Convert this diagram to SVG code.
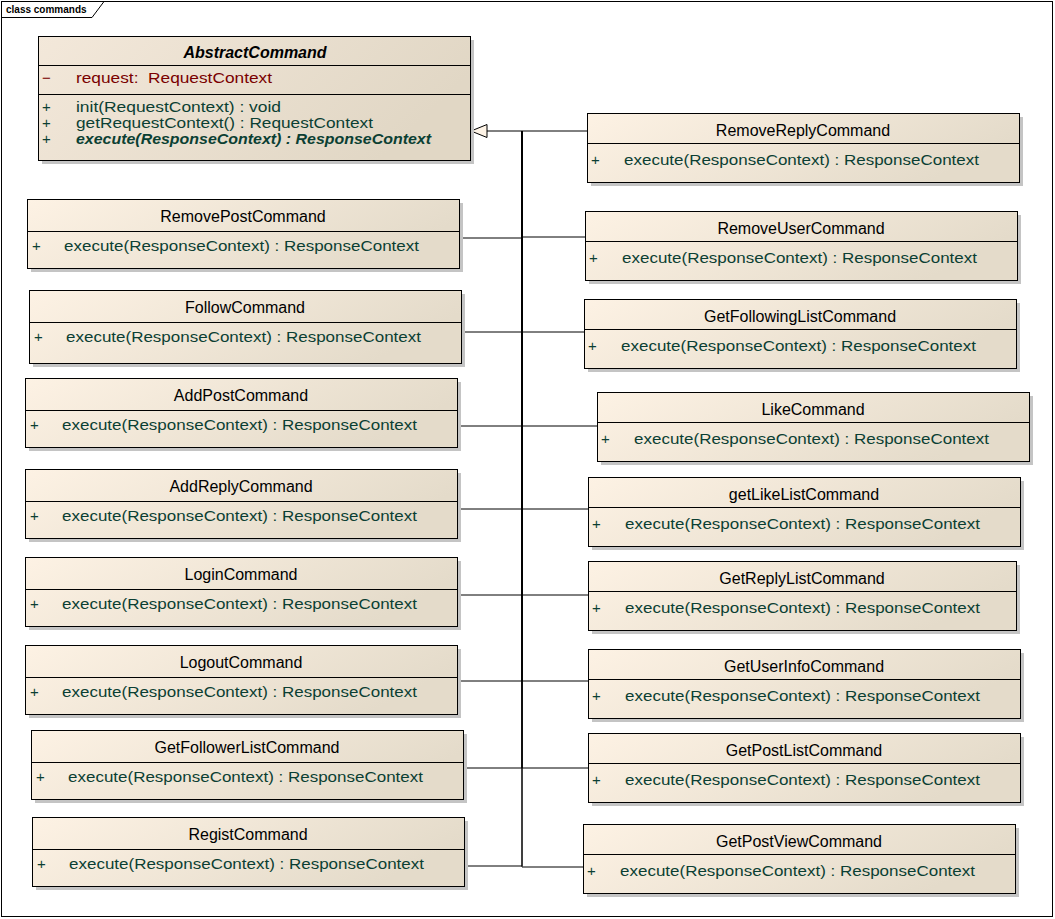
<svg xmlns="http://www.w3.org/2000/svg" width="1055" height="919" viewBox="0 0 1055 919">
<defs>
<linearGradient id="g" x1="0" y1="0" x2="1" y2="0.3">
<stop offset="0" stop-color="#fdf2e4"/>
<stop offset="1" stop-color="#e4dbca"/>
</linearGradient>
<linearGradient id="ga" x1="0" y1="0" x2="1" y2="0.3">
<stop offset="0" stop-color="#f3e8da"/>
<stop offset="1" stop-color="#e1d7c5"/>
</linearGradient>
</defs>
<style>
.sh{fill:#c4c4c4}
.bx{fill:url(#g);stroke:#000;stroke-width:1}
.ln{stroke:#000;stroke-width:1;fill:none}
.t{font-family:"Liberation Sans",Arial,sans-serif;font-size:16px;fill:#000;text-anchor:middle}
.m{font-family:"Liberation Sans",Arial,sans-serif;font-size:15px;fill:#0b3f33}
.a{font-family:"Liberation Sans",Arial,sans-serif;font-size:15px;fill:#7a0000}
.c{stroke:#000;stroke-width:1;fill:none}
</style>
<rect x="0" y="0" width="1055" height="919" fill="#fff"/>
<g id="frame">
<rect x="1.5" y="1.5" width="1051" height="915" fill="none" stroke="#000"/>
<path d="M1.5,1.5 H104 L92,17.5 H1.5" fill="none" stroke="#000"/>
<text x="6" y="13" font-family="'Liberation Sans',Arial,sans-serif" font-size="10" font-weight="bold">class commands</text>
</g>
<g id="connectors">
<path class="c" d="M487,131 H522 V131"/>
<path class="c" d="M587,131 H522"/>
<path class="c" d="M459,238 H522 V131"/>
<path class="c" d="M585,237 H522 V131"/>
<path class="c" d="M461,332 H522 V131"/>
<path class="c" d="M584,332 H522 V131"/>
<path class="c" d="M457,426 H522 V131"/>
<path class="c" d="M597,426 H522 V131"/>
<path class="c" d="M457,509 H522 V131"/>
<path class="c" d="M588,509 H522 V131"/>
<path class="c" d="M457,595 H522 V131"/>
<path class="c" d="M588,595 H522 V131"/>
<path class="c" d="M457,681 H522 V131"/>
<path class="c" d="M588,681 H522 V131"/>
<path class="c" d="M463,768 H522 V131"/>
<path class="c" d="M588,768 H522 V131"/>
<path class="c" d="M464,866 H522 V131"/>
<path class="c" d="M583,867 H522 V131"/>
<path d="M471,131 L487,124.5 L487,137.5 Z" fill="#fdf3e6" stroke="#000"/>
</g>
<g id="AbstractCommand">
<rect class="sh" x="42" y="40" width="432" height="124"/>
<rect x="38.5" y="36.5" width="432" height="124" fill="url(#ga)" stroke="#000"/>
<line class="ln" x1="38.5" y1="65.5" x2="470.5" y2="65.5"/>
<line class="ln" x1="38.5" y1="94.5" x2="470.5" y2="94.5"/>
<text class="t" x="255" y="58" font-weight="bold" font-style="italic">AbstractCommand</text>
<text class="a" x="42" y="83">−</text>
<text class="a" x="76" y="83" xml:space="preserve" textLength="196" lengthAdjust="spacingAndGlyphs">request:  RequestContext</text>
<text class="m" x="42" y="112">+</text>
<text class="m" x="76" y="112" textLength="205" lengthAdjust="spacingAndGlyphs">init(RequestContext) : void</text>
<text class="m" x="42" y="128">+</text>
<text class="m" x="76" y="128" textLength="297" lengthAdjust="spacingAndGlyphs">getRequestContext() : RequestContext</text>
<text class="m" x="42" y="144">+</text>
<text class="m" x="76" y="144" font-weight="bold" font-style="italic" textLength="355" lengthAdjust="spacingAndGlyphs">execute(ResponseContext) : ResponseContext</text>
</g>
<g id="RemovePostCommand">
<rect class="sh" x="31" y="203" width="432" height="69"/>
<rect class="bx" x="27.5" y="199.5" width="432" height="69"/>
<line class="ln" x1="27.5" y1="231.5" x2="459.5" y2="231.5"/>
<text class="t" x="243" y="222">RemovePostCommand</text>
<text class="m" x="32" y="251">+</text>
<text class="m" x="64" y="251" textLength="355" lengthAdjust="spacingAndGlyphs">execute(ResponseContext) : ResponseContext</text>
</g>
<g id="FollowCommand">
<rect class="sh" x="33" y="294" width="432" height="73"/>
<rect class="bx" x="29.5" y="290.5" width="432" height="73"/>
<line class="ln" x1="29.5" y1="322.5" x2="461.5" y2="322.5"/>
<text class="t" x="245" y="313">FollowCommand</text>
<text class="m" x="34" y="342">+</text>
<text class="m" x="66" y="342" textLength="355" lengthAdjust="spacingAndGlyphs">execute(ResponseContext) : ResponseContext</text>
</g>
<g id="AddPostCommand">
<rect class="sh" x="29" y="382" width="432" height="69"/>
<rect class="bx" x="25.5" y="378.5" width="432" height="69"/>
<line class="ln" x1="25.5" y1="410.5" x2="457.5" y2="410.5"/>
<text class="t" x="241" y="401">AddPostCommand</text>
<text class="m" x="30" y="430">+</text>
<text class="m" x="62" y="430" textLength="355" lengthAdjust="spacingAndGlyphs">execute(ResponseContext) : ResponseContext</text>
</g>
<g id="AddReplyCommand">
<rect class="sh" x="29" y="473" width="432" height="69"/>
<rect class="bx" x="25.5" y="469.5" width="432" height="69"/>
<line class="ln" x1="25.5" y1="501.5" x2="457.5" y2="501.5"/>
<text class="t" x="241" y="492">AddReplyCommand</text>
<text class="m" x="30" y="521">+</text>
<text class="m" x="62" y="521" textLength="355" lengthAdjust="spacingAndGlyphs">execute(ResponseContext) : ResponseContext</text>
</g>
<g id="LoginCommand">
<rect class="sh" x="29" y="561" width="432" height="69"/>
<rect class="bx" x="25.5" y="557.5" width="432" height="69"/>
<line class="ln" x1="25.5" y1="589.5" x2="457.5" y2="589.5"/>
<text class="t" x="241" y="580">LoginCommand</text>
<text class="m" x="30" y="609">+</text>
<text class="m" x="62" y="609" textLength="355" lengthAdjust="spacingAndGlyphs">execute(ResponseContext) : ResponseContext</text>
</g>
<g id="LogoutCommand">
<rect class="sh" x="29" y="649" width="432" height="69"/>
<rect class="bx" x="25.5" y="645.5" width="432" height="69"/>
<line class="ln" x1="25.5" y1="677.5" x2="457.5" y2="677.5"/>
<text class="t" x="241" y="668">LogoutCommand</text>
<text class="m" x="30" y="697">+</text>
<text class="m" x="62" y="697" textLength="355" lengthAdjust="spacingAndGlyphs">execute(ResponseContext) : ResponseContext</text>
</g>
<g id="GetFollowerListCommand">
<rect class="sh" x="35" y="734" width="432" height="69"/>
<rect class="bx" x="31.5" y="730.5" width="432" height="69"/>
<line class="ln" x1="31.5" y1="762.5" x2="463.5" y2="762.5"/>
<text class="t" x="247" y="753">GetFollowerListCommand</text>
<text class="m" x="36" y="782">+</text>
<text class="m" x="68" y="782" textLength="355" lengthAdjust="spacingAndGlyphs">execute(ResponseContext) : ResponseContext</text>
</g>
<g id="RegistCommand">
<rect class="sh" x="36" y="821" width="432" height="69"/>
<rect class="bx" x="32.5" y="817.5" width="432" height="69"/>
<line class="ln" x1="32.5" y1="849.5" x2="464.5" y2="849.5"/>
<text class="t" x="248" y="840">RegistCommand</text>
<text class="m" x="37" y="869">+</text>
<text class="m" x="69" y="869" textLength="355" lengthAdjust="spacingAndGlyphs">execute(ResponseContext) : ResponseContext</text>
</g>
<g id="RemoveReplyCommand">
<rect class="sh" x="591" y="117" width="432" height="69"/>
<rect class="bx" x="587.5" y="113.5" width="432" height="69"/>
<line class="ln" x1="587.5" y1="143.5" x2="1019.5" y2="143.5"/>
<text class="t" x="803" y="136">RemoveReplyCommand</text>
<text class="m" x="591" y="165">+</text>
<text class="m" x="624" y="165" textLength="355" lengthAdjust="spacingAndGlyphs">execute(ResponseContext) : ResponseContext</text>
</g>
<g id="RemoveUserCommand">
<rect class="sh" x="589" y="215" width="432" height="69"/>
<rect class="bx" x="585.5" y="211.5" width="432" height="69"/>
<line class="ln" x1="585.5" y1="241.5" x2="1017.5" y2="241.5"/>
<text class="t" x="801" y="234">RemoveUserCommand</text>
<text class="m" x="589" y="263">+</text>
<text class="m" x="622" y="263" textLength="355" lengthAdjust="spacingAndGlyphs">execute(ResponseContext) : ResponseContext</text>
</g>
<g id="GetFollowingListCommand">
<rect class="sh" x="588" y="303" width="432" height="69"/>
<rect class="bx" x="584.5" y="299.5" width="432" height="69"/>
<line class="ln" x1="584.5" y1="329.5" x2="1016.5" y2="329.5"/>
<text class="t" x="800" y="322">GetFollowingListCommand</text>
<text class="m" x="588" y="351">+</text>
<text class="m" x="621" y="351" textLength="355" lengthAdjust="spacingAndGlyphs">execute(ResponseContext) : ResponseContext</text>
</g>
<g id="LikeCommand">
<rect class="sh" x="601" y="396" width="432" height="69"/>
<rect class="bx" x="597.5" y="392.5" width="432" height="69"/>
<line class="ln" x1="597.5" y1="422.5" x2="1029.5" y2="422.5"/>
<text class="t" x="813" y="415">LikeCommand</text>
<text class="m" x="601" y="444">+</text>
<text class="m" x="634" y="444" textLength="355" lengthAdjust="spacingAndGlyphs">execute(ResponseContext) : ResponseContext</text>
</g>
<g id="getLikeListCommand">
<rect class="sh" x="592" y="481" width="432" height="69"/>
<rect class="bx" x="588.5" y="477.5" width="432" height="69"/>
<line class="ln" x1="588.5" y1="507.5" x2="1020.5" y2="507.5"/>
<text class="t" x="804" y="500">getLikeListCommand</text>
<text class="m" x="592" y="529">+</text>
<text class="m" x="625" y="529" textLength="355" lengthAdjust="spacingAndGlyphs">execute(ResponseContext) : ResponseContext</text>
</g>
<g id="GetReplyListCommand">
<rect class="sh" x="592" y="565" width="428" height="69"/>
<rect class="bx" x="588.5" y="561.5" width="428" height="69"/>
<line class="ln" x1="588.5" y1="591.5" x2="1016.5" y2="591.5"/>
<text class="t" x="802" y="584">GetReplyListCommand</text>
<text class="m" x="592" y="613">+</text>
<text class="m" x="625" y="613" textLength="355" lengthAdjust="spacingAndGlyphs">execute(ResponseContext) : ResponseContext</text>
</g>
<g id="GetUserInfoCommand">
<rect class="sh" x="592" y="653" width="432" height="69"/>
<rect class="bx" x="588.5" y="649.5" width="432" height="69"/>
<line class="ln" x1="588.5" y1="679.5" x2="1020.5" y2="679.5"/>
<text class="t" x="804" y="672">GetUserInfoCommand</text>
<text class="m" x="592" y="701">+</text>
<text class="m" x="625" y="701" textLength="355" lengthAdjust="spacingAndGlyphs">execute(ResponseContext) : ResponseContext</text>
</g>
<g id="GetPostListCommand">
<rect class="sh" x="592" y="737" width="432" height="69"/>
<rect class="bx" x="588.5" y="733.5" width="432" height="69"/>
<line class="ln" x1="588.5" y1="763.5" x2="1020.5" y2="763.5"/>
<text class="t" x="804" y="756">GetPostListCommand</text>
<text class="m" x="592" y="785">+</text>
<text class="m" x="625" y="785" textLength="355" lengthAdjust="spacingAndGlyphs">execute(ResponseContext) : ResponseContext</text>
</g>
<g id="GetPostViewCommand">
<rect class="sh" x="587" y="828" width="432" height="69"/>
<rect class="bx" x="583.5" y="824.5" width="432" height="69"/>
<line class="ln" x1="583.5" y1="854.5" x2="1015.5" y2="854.5"/>
<text class="t" x="799" y="847">GetPostViewCommand</text>
<text class="m" x="587" y="876">+</text>
<text class="m" x="620" y="876" textLength="355" lengthAdjust="spacingAndGlyphs">execute(ResponseContext) : ResponseContext</text>
</g>
</svg>
